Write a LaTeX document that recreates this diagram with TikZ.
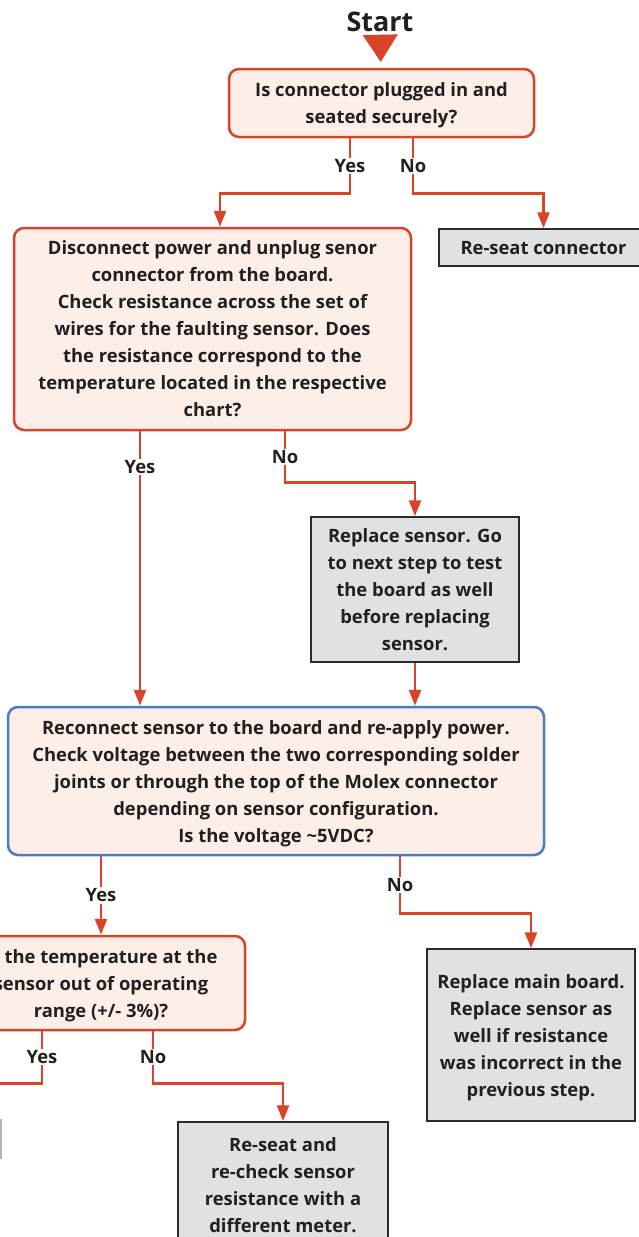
\documentclass[tikz,border=0pt]{standalone}
\usepackage{fontspec}
\setmainfont{Open Sans}
\usepackage{tikz}
\usetikzlibrary{arrows.meta,positioning,calc}
\definecolor{Line}{HTML}{D9432A}
\definecolor{Ask}{HTML}{FDEEE7}
\definecolor{Fix}{HTML}{E0E1E3}
\definecolor{Edge}{HTML}{2B2B2B}
\definecolor{Blue}{HTML}{4A7BC4}
\definecolor{Ink}{HTML}{231F20}

\begin{document}
\begin{tikzpicture}[x=1pt,y=-1pt,
  font=\fontsize{18.4}{27}\selectfont\bfseries,text=Ink,
  ask/.style={draw=Line,line width=2.5pt,fill=Ask,rounded corners=10pt,align=center,inner sep=0pt,text depth=0pt},
  fix/.style={draw=Edge,line width=1.5pt,fill=Fix,align=center,inner sep=0pt,text depth=0pt},
  arr/.style={draw=Line,line width=2.5pt,-{Triangle[width=12pt,length=16pt]}},
  lbl/.style={fill=white,inner sep=1.5pt}]
  \clip (0,0) rectangle (639,1237);

  \node[font=\fontsize{27}{30}\selectfont\bfseries] (start) at (380,22) {Start};
  \node[ask,minimum width=305pt,minimum height=68pt] (q1) at (381.5,103) {Is connector plugged in and\\seated securely?};
  \node[ask,minimum width=397pt,minimum height=202pt] (q2) at (212.5,329) {Disconnect power and unplug senor\\connector from the board.\\Check resistance across the set of\\wires for the faulting sensor. Does\\the resistance correspond to the\\temperature located in the respective\\chart?};
  \node[fix,minimum width=209pt,minimum height=37pt] (r1) at (543.5,247.5) {Re-seat connector};
  \node[fix,minimum width=208pt,minimum height=145pt] (r2) at (415,589.5) {Replace sensor. Go\\to next step to test\\the board as well\\before replacing\\sensor.};
  \node[ask,draw=Blue,minimum width=536pt,minimum height=148pt] (q3) at (276,781) {Reconnect sensor to the board and re-apply power.\\Check voltage between the two corresponding solder\\joints or through the top of the Molex connector\\depending on sensor configuration.\\Is the voltage \textasciitilde5VDC?};
  \node[ask,minimum width=288pt,minimum height=94pt] (q4) at (101,983) {Is the temperature at the\\sensor out of operating\\range (+/- 3\%)?};
  \node[fix,minimum width=208pt,minimum height=172pt] (r3) at (531,1035) {Replace main board.\\Replace sensor as\\well if resistance\\was incorrect in the\\previous step.};
  \node[fix,minimum width=210pt,minimum height=125pt] (r4) at (283,1184.5) {Re-seat and\\re-check sensor\\resistance with a\\different meter.};
  \node[fix,draw=Edge!35,minimum width=200pt,minimum height=38pt] (r5) at (-99,1139) {};
  \coordinate (q3in) at ([xshift=-136pt]q3.north);

  % start marker
  \draw[Line,-{Triangle[width=35pt,length=27pt]},shorten >=6pt] (start) -- (q1);
  % yes / no branches
  \draw[arr] ([xshift=-31.5pt]q1.south) -- node[lbl]{Yes} ++(0,55) -| ([xshift=7.5pt]q2.north);
  \draw[arr] ([xshift=31.5pt]q1.south) -- node[lbl]{No} ++(0,55) -| (r1.north);
  \draw[arr] ([xshift=-72.5pt]q2.south) -- node[lbl,pos=0.13]{Yes} (q3in);
  \draw[arr] ([xshift=72.5pt]q2.south) -- node[lbl]{No} ++(0,51) -| (r2.north);
  \draw[arr] (r2.south) -- (r2.south |- q3.north);
  \draw[arr] ([xshift=-175pt]q3.south) -- node[lbl]{Yes} (q4.north);
  \draw[arr] ([xshift=124pt]q3.south) -- node[lbl]{No} ++(0,57) -| (r3.north);
  \draw[arr] ([xshift=-59pt]q4.south) -- node[lbl]{Yes} ++(0,52) -| (r5.north);
  \draw[arr] ([xshift=52pt]q4.south) -- node[lbl]{No} ++(0,52) -| (r4.north);
\end{tikzpicture}
\end{document}
